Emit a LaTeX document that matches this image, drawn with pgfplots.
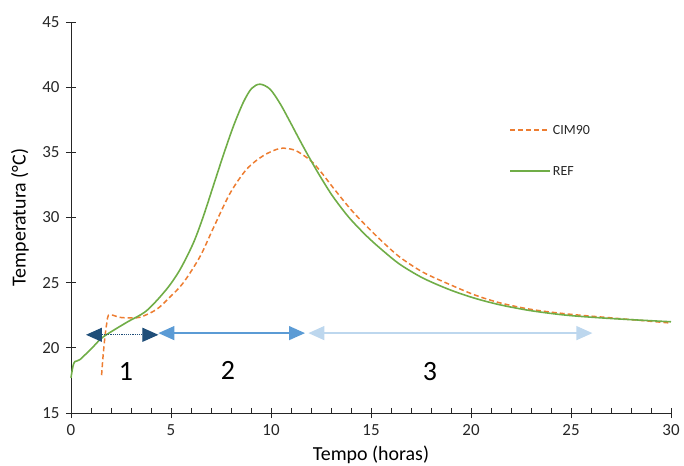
\documentclass[border=0pt]{standalone}
\usepackage{pgfplots}
\pgfplotsset{compat=1.18}
\usepackage{fontspec}
\setmainfont{Carlito}
\usetikzlibrary{arrows.meta}
\definecolor{cgreen}{HTML}{70AD47}
\definecolor{corange}{HTML}{ED7D31}
\definecolor{cdark}{HTML}{1F4E79}
\definecolor{cmid}{HTML}{5B9BD5}
\definecolor{clight}{HTML}{BDD7EE}
\tikzset{odash/.style={dash pattern=on 5bp off 3bp}}
\begin{document}
\begin{tikzpicture}
\begin{axis}[
  scale only axis,
  width=600bp, height=391bp,
  xmin=0, xmax=30, ymin=15, ymax=45,
  axis lines=left,
  axis line style={-, line width=0.9pt, black!85},
  xtick={0,5,...,30}, ytick={15,20,...,45},
  minor xtick={1,2,3,4,6,7,8,9,11,12,13,14,16,17,18,19,21,22,23,24,26,27,28,29},
  major tick style={line width=0.9pt, black!85},
  minor tick style={line width=0.9pt, black!85, yshift=2.5bp},
  major tick length=10bp,
  minor tick length=5bp,
  xtick align=center,
  ytick align=center,
  /pgf/number format/assume math mode=true,
  tick label style={font=\fontsize{17}{20}\selectfont, text=black!85},
  xticklabel style={yshift=-3bp},
  yticklabel style={xshift=-3bp},
  xlabel={Tempo (horas)},
  ylabel={Temperatura (°C)},
  every axis x label/.style={at={(axis description cs:0.5,0)}, yshift=-42bp, anchor=center, font=\fontsize{20}{24}\selectfont},
  every axis y label/.style={at={(axis description cs:0,0.5)}, xshift=-51bp, anchor=center, rotate=90, font=\fontsize{20}{24}\selectfont},
  clip=false,
]
\coordinate (O) at (rel axis cs:0,0);
\addplot[corange, line width=1.5pt, odash, smooth, tension=0.5] coordinates {
(1.53,17.9) (1.6,19.3) (1.7,20.9) (1.8,22.0) (1.87,22.5) (2.1,22.5) (2.4,22.35) (2.78,22.3) (3.45,22.35) (4.28,22.95) (4.95,23.9) (5.62,25.0) (6.45,27.0) (7.12,29.2) (7.95,31.85) (8.78,33.7) (9.62,34.75) (10.45,35.3) (11.12,35.2) (11.6,34.8) (12.1,34.2) (12.6,33.3) (13.1,32.3) (14.0,30.6) (14.8,29.3) (15.6,28.1) (16.45,26.95) (17.6,25.8) (18.95,24.85) (20.2,24.05) (21.45,23.45) (23.0,22.95) (24.8,22.6) (27.0,22.3) (30,21.9)
};
\addplot[cgreen, line width=1.6pt, smooth, tension=0.5] coordinates {
(0,17.7) (0.1,18.6) (0.2,18.95) (0.45,19.1) (1.12,20.1) (1.62,20.85) (2.78,21.95) (3.78,22.85) (4.78,24.5) (5.45,26.0) (6.12,28.05) (6.62,30.1) (7.12,32.45) (7.62,34.8) (8.12,37.0) (8.62,38.85) (9.03,39.9) (9.45,40.23) (9.95,39.85) (10.45,38.75) (10.95,37.35) (11.45,35.9) (11.95,34.5) (12.5,33.05) (13.1,31.6) (13.9,30.0) (14.8,28.55) (15.6,27.45) (16.45,26.4) (17.6,25.35) (18.95,24.45) (20.2,23.8) (21.45,23.3) (23.0,22.85) (24.8,22.5) (27.0,22.25) (30,22.0)
};
\addplot[cdark, line width=1.2pt, densely dotted, {Triangle[length=16bp,width=14bp]}-{Triangle[length=16bp,width=14bp]}] coordinates {(0.75,21.0) (4.37,21.0)};
\addplot[cmid, line width=1.3pt, {Triangle[length=16bp,width=14bp]}-{Triangle[length=16bp,width=14bp]}] coordinates {(4.37,21.13) (11.7,21.13)};
\addplot[clight, line width=1.3pt, {Triangle[length=16bp,width=14bp]}-{Triangle[length=16bp,width=14bp]}] coordinates {(11.87,21.13) (26.07,21.13)};
\node[font=\fontsize{28}{30}\selectfont] at (axis cs:2.75,18.15) {1};
\node[font=\fontsize{28}{30}\selectfont] at (axis cs:7.85,18.3) {2};
\node[font=\fontsize{28}{30}\selectfont] at (axis cs:17.95,18.15) {3};
% legend
\draw[corange, line width=1.5pt, odash] (axis description cs:0.7317,0.7238) -- (axis description cs:0.798,0.7238);
\node[anchor=west, inner sep=0pt, font=\fontsize{14}{16}\selectfont, text=black!85] at (axis description cs:0.803,0.7238) {CIM90};
\draw[cgreen, line width=1.6pt] (axis description cs:0.7317,0.619) -- (axis description cs:0.798,0.619);
\node[anchor=west, inner sep=0pt, font=\fontsize{14}{16}\selectfont, text=black!85] at (axis description cs:0.803,0.619) {REF};
\end{axis}
\pgfresetboundingbox
\path[use as bounding box] (O) ++(-71bp,-53bp) rectangle ++(684bp,466bp);
\end{tikzpicture}
\end{document}
